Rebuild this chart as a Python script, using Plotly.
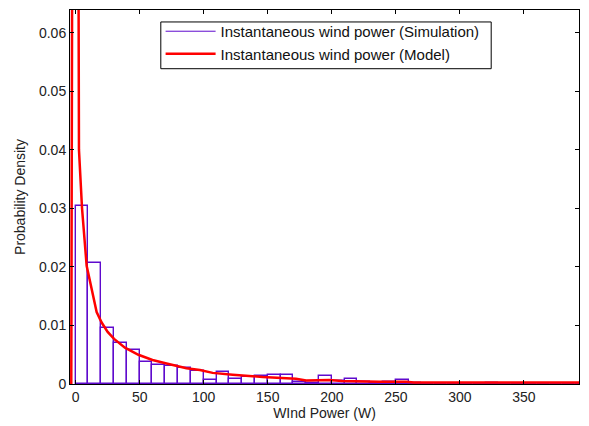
import plotly.graph_objects as go

# Histogram (simulation): bins of width 10 starting at 0
bin_left = list(range(0, 400, 10))
sim_density = [0.0304, 0.0206, 0.0096, 0.0070, 0.0058, 0.0038, 0.0033, 0.0031, 0.0027, 0.0023,
               0.0006, 0.0021, 0.0009, 0.0012, 0.0013, 0.0015, 0.0016, 0.0003, 0.0002, 0.0013,
               0.0005, 0.0009, 0.0003, 0.0002, 0.0003, 0.0006, 0.0001, 0.0, 0.0, 0.0,
               0.0, 0.0, 0.0002, 0.0, 0.0, 0.0, 0.0, 0.0, 0.0, 0.0]

# Model curve
model_x = [-3.4, -0.5, 2.6, 5.0, 8.6, 10.5, 16.4, 20.3, 25.0, 30.0, 38.5, 49.0, 60.0, 71.0,
           86.5, 97.0, 107.0, 122.6, 146.0, 172.0, 180.0, 198.0, 208.0, 237.0, 258.0, 264.0,
           300.0, 400.0]
model_y = [0.0, 0.3, 0.040, 0.030, 0.0202, 0.0183, 0.0123, 0.0105, 0.0089, 0.0077, 0.0062,
           0.0050, 0.0041, 0.0035, 0.0027, 0.0024, 0.0019, 0.0016, 0.0012, 0.0009, 0.0006,
           0.0007, 0.0005, 0.0004, 0.0004, 0.00025, 0.00025, 0.00025]

x_ticks = [0, 50, 100, 150, 200, 250, 300, 350]
y_ticks = [0, 0.01, 0.02, 0.03, 0.04, 0.05, 0.06]
y_tick_text = ["0", "0.01", "0.02", "0.03", "0.04", "0.05", "0.06"]

PURPLE = "rgb(95,10,205)"
RED = "rgb(255,0,0)"
FONT = "Liberation Sans, Arial, sans-serif"

fig = go.Figure()
fig.add_trace(go.Bar(
    x=[b + 5 for b in bin_left], y=sim_density, width=10,
    marker=dict(color="white", line=dict(color=PURPLE, width=1.4)),
    showlegend=False, hoverinfo="skip"))
fig.add_trace(go.Scatter(
    x=[None], y=[None], mode="lines", line=dict(color=PURPLE, width=1),
    name="Instantaneous wind power (Simulation)"))
fig.add_trace(go.Scatter(
    x=model_x, y=model_y, mode="lines", line=dict(color=RED, width=2.5),
    name="Instantaneous wind power (Model)"))

axis_common = dict(
    showline=True, linecolor="black", linewidth=1, mirror="allticks",
    ticks="inside", ticklen=4, tickcolor="black", showgrid=False, zeroline=False,
    tickfont=dict(family=FONT, size=14, color="#222"),
)

# legend frame drawn as a layout shape (paper coords)
fig.add_shape(type="rect", xref="paper", yref="paper",
              x0=0.1784, x1=0.8275, y0=0.843, y1=0.968,
              line=dict(color="black", width=1), fillcolor="white", layer="above")

fig.update_layout(
    width=589, height=426,
    margin=dict(l=70, r=9, t=10, b=40),
    paper_bgcolor="white", plot_bgcolor="white",
    bargap=0,
    font=dict(family=FONT, size=14, color="#222"),
    xaxis=dict(range=[-4.4, 393], tickvals=x_ticks,
               title=dict(text="WInd Power (W)", standoff=2, font=dict(size=14)),
               **axis_common),
    yaxis=dict(range=[0, 0.0639], tickvals=y_ticks, ticktext=y_tick_text,
               title=dict(text="Probability Density", standoff=10, font=dict(size=14)),
               **axis_common),
    legend=dict(x=0.178, y=0.9867, xanchor="left", yanchor="top",
                bgcolor="rgba(0,0,0,0)", borderwidth=0,
                font=dict(family=FONT, size=15, color="#111"),
                tracegroupgap=0, itemwidth=50),
)

fig.write_html("out.html", config={"displayModeBar": False},
               post_script="document.body.style.margin='0';document.body.style.padding='0';")
